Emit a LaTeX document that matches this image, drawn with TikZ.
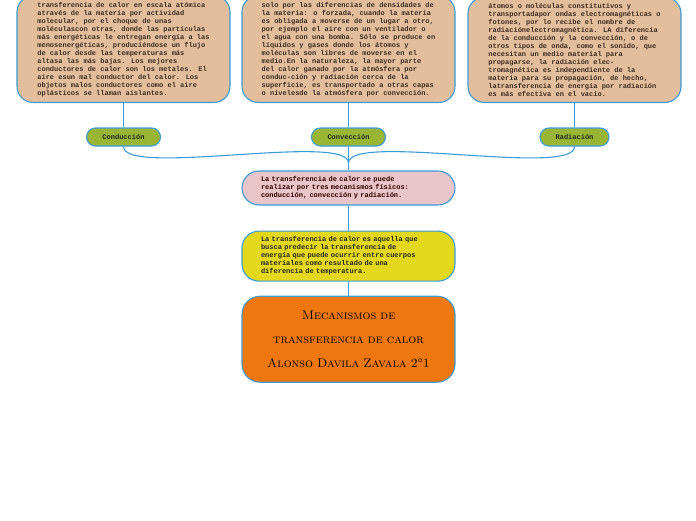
\documentclass[tikz,border=0pt]{standalone}
\usepackage{fontspec}
\newfontfamily\mapmono{Liberation Mono}
\usepackage{tikz}
\usetikzlibrary{shapes,arrows,positioning,calc}
\definecolor{MapBlue}{RGB}{58, 156, 217}
\definecolor{MapTan}{RGB}{227, 190, 156}
\definecolor{MapGreen}{RGB}{154, 181, 52}
\definecolor{MapPink}{RGB}{231, 197, 201}
\definecolor{MapYellow}{RGB}{227, 216, 28}
\definecolor{MapOrange}{RGB}{238, 119, 16}
\definecolor{MapInk}{RGB}{60, 45, 35}

\begin{document}
\begin{tikzpicture}[x=1pt, y=-1pt, node distance=25pt, auto]
  \tikzstyle{topic} = [rectangle, draw=MapBlue, fill=MapTan, text=MapInk, minimum width=213pt, align=left, rounded corners=16pt, inner ysep=6pt, line width=1.1pt, font=\mapmono\bfseries\fontsize{7}{8}\selectfont, anchor=south]
  \tikzstyle{pill} = [rectangle, draw=MapBlue, fill=MapGreen, text=black!85, minimum width=74pt, minimum height=18pt, rounded corners=9pt, line width=1.1pt, font=\mapmono\bfseries\fontsize{7}{8}\selectfont]
  \tikzstyle{pane} = [rectangle, draw=MapBlue, text width=175pt, align=left, inner xsep=19pt, rounded corners=17pt, line width=1.1pt, font=\mapmono\bfseries\fontsize{7}{8}\selectfont]
  \tikzstyle{link} = [draw=MapBlue, line width=1.1pt]

  \useasboundingbox (0,0) rectangle (696,520);

  % top text boxes (cut off at the top edge)
  \node [topic] (cond) at (123.5,103) {transferencia de calor en escala atómica\\através de la materia por actividad\\molecular, por el choque de unas\\moléculascon otras, donde las partículas\\más energéticas le entregan energía a las\\menosenergéticas, produciéndose un flujo\\de calor desde las temperaturas más\\altasa las más bajas. Los mejores\\conductores de calor son los metales. El\\aire esun mal conductor del calor. Los\\objetos malos conductores como el aire\\oplásticos se llaman aislantes.};
  \node [topic] (conv) at (348.5,103) {solo por las diferencias de densidades de\\la materia: o forzada, cuando la materia\\es obligada a moverse de un lugar a otro,\\por ejemplo el aire con un ventilador o\\el agua con una bomba. Sólo se produce en\\líquidos y gases donde los átomos y\\moléculas son libres de moverse en el\\medio.En la naturaleza, la mayor parte\\del calor ganado por la atmósfera por\\conduc-ción y radiación cerca de la\\superficie, es transportado a otras capas\\o nivelesde la atmósfera por convección.};
  \node [topic] (rad) at (574.5,103) {átomos o moléculas constitutivos y\\transportadapor ondas electromagnéticas o\\fotones, por lo recibe el nombre de\\radiaciónelectromagnética. LA diferencia\\de la conducción y la convección, o de\\otros tipos de onda, como el sonido, que\\necesitan un medio material para\\propagarse, la radiación elec-\\tromagnética es independiente de la\\materia para su propagación, de hecho,\\latransferencia de energía por radiación\\es más efectiva en el vacío.};

  % mechanism labels
  \node [pill] (condLbl) at (123.5,137) {Conducción};
  \node [pill] (convLbl) at (348.5,137) {Convección};
  \node [pill, minimum width=69pt] (radLbl) at (574.5,137) {Radiación};

  % centre column
  \node [pane, fill=MapPink, text=black!70!red!60!black, minimum height=34pt] (mech) at (348.5,188) {La transferencia de calor se puede\\realizar por tres mecanismos físicos:\\conducción, convección y radiación.};
  \node [pane, fill=MapYellow, text=black!85, minimum height=50pt, below=of mech] (defn) {La transferencia de calor es aquella que\\busca predecir la transferencia de\\energía que puede ocurrir entre cuerpos\\materiales como resultado de una\\diferencia de temperatura.};
  \node [pane, fill=MapOrange, text=black, align=center, minimum height=86pt, rounded corners=18pt, below=14pt of defn, font=\rmfamily\scshape\fontsize{12.5}{24}\selectfont] (title) {Mecanismos de\\transferencia de calor\\Alonso Davila Zavala 2°1};

  \coordinate (join) at (348.5,163);

  \draw [link] (cond) -- (condLbl);
  \draw [link] (conv) -- (convLbl);
  \draw [link] (rad) -- (radLbl);
  \draw [link] (condLbl.south) to[out=-90, in=90, looseness=0.35] (join);
  \draw [link] (radLbl.south) to[out=-90, in=90, looseness=0.35] (join);
  \draw [link] (convLbl) -- (mech);
  \draw [link] (mech) -- (defn);
  \draw [link] (defn) -- (title);
\end{tikzpicture}
\end{document}
